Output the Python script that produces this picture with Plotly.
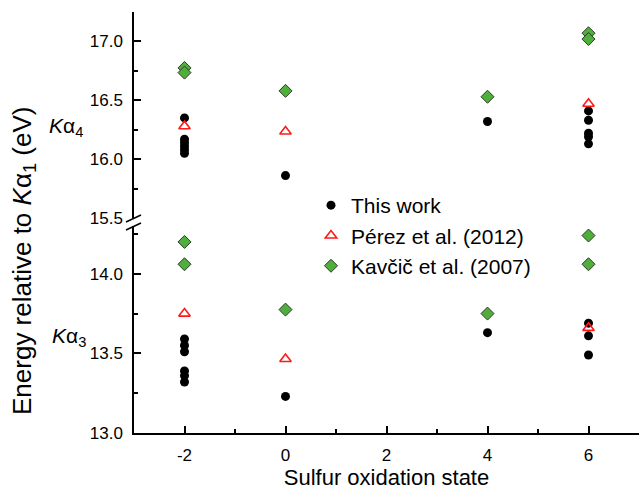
import plotly.graph_objects as go

# ---- data ----
tw_x_ka4 = [-2, -2, -2, -2, -2, -2, 0, 4, 6, 6, 6, 6, 6]
tw_y_ka4 = [16.35, 16.17, 16.14, 16.11, 16.08, 16.05, 15.86, 16.32, 16.41, 16.33, 16.22, 16.19, 16.13]
tw_x_ka3 = [-2, -2, -2, -2, -2, -2, 0, 4, 6, 6, 6]
tw_y_ka3 = [13.59, 13.55, 13.51, 13.39, 13.36, 13.32, 13.23, 13.63, 13.69, 13.61, 13.49]

pz_x_ka4 = [-2, 0, 6]
pz_y_ka4 = [16.28, 16.235, 16.47]
pz_x_ka3 = [-2, 0, 6]
pz_y_ka3 = [13.75, 13.465, 13.66]

kv_x_ka4 = [-2, -2, 0, 4, 6, 6]
kv_y_ka4 = [16.775, 16.735, 16.58, 16.53, 17.07, 17.02]
kv_x_ka3 = [-2, -2, 0, 4, 6, 6]
kv_y_ka3 = [14.20, 14.06, 13.775, 13.75, 14.24, 14.06]

x_ticks = [-2, 0, 2, 4, 6]
ka4_ticks = [15.5, 16.0, 16.5, 17.0]
ka3_ticks = [13.0, 13.5, 14.0]

FONT = "Liberation Sans, Arial, sans-serif"

series = [
    ("This work", tw_x_ka4, tw_y_ka4, tw_x_ka3, tw_y_ka3,
     dict(symbol="circle", size=9, color="black", line=dict(width=0))),
    ("Pérez et al. (2012)", pz_x_ka4, pz_y_ka4, pz_x_ka3, pz_y_ka3,
     dict(symbol="triangle-up-open", size=10, color="#ff1a1a", line=dict(width=1.6, color="#ff1a1a"))),
    ("Kavčič et al. (2007)", kv_x_ka4, kv_y_ka4, kv_x_ka3, kv_y_ka3,
     dict(symbol="diamond", size=10, color="#4fae3c", line=dict(width=1, color="#2b3d26"))),
]

fig = go.Figure()
for name, x4, y4, x3, y3, mk in series:
    fig.add_trace(go.Scatter(x=x4, y=y4, mode="markers", name=name,
                             marker=mk, xaxis="x", yaxis="y2", showlegend=True))
    fig.add_trace(go.Scatter(x=x3, y=y3, mode="markers", name=name,
                             marker=mk, xaxis="x", yaxis="y", showlegend=False))

L, R, T, B = 134, 0, 12, 57
W, H = 639, 490
pw, ph = W - L - R, H - T - B


def px(xp):
    return (xp - L) / pw


def py(yp):
    return (H - B - yp) / ph


axis_common = dict(showline=True, linecolor="black", linewidth=1.5, ticks="inside",
                   ticklen=7, tickwidth=1.5, tickcolor="black", showgrid=False,
                   zeroline=False, tickfont=dict(family=FONT, size=17, color="black"),
                   ticklabelstandoff=6)

fig.update_layout(
    width=W, height=H,
    margin=dict(l=L, r=R, t=T, b=B),
    paper_bgcolor="white", plot_bgcolor="white",
    font=dict(family=FONT, color="black"),
    xaxis=dict(range=[-3, 7], tickvals=x_ticks, ticktext=[str(v) for v in x_ticks],
               anchor="y", minor=dict(dtick=1, tick0=-3, ticks="inside", ticklen=4,
                                      tickwidth=1.5, tickcolor="black"),
               title=dict(text="Sulfur oxidation state", font=dict(family=FONT, size=22), standoff=6),
               **axis_common),
    yaxis=dict(domain=[0, py(226)], range=[13.0, 14.3], tickvals=ka3_ticks,
               ticktext=[f"{v:.1f}" for v in ka3_ticks], anchor="x",
               minor=dict(dtick=0.25, tick0=13.0, ticks="inside", ticklen=4,
                          tickwidth=1.5, tickcolor="black"),
               **axis_common),
    yaxis2=dict(domain=[py(218), 1], range=[15.5, 17.25], tickvals=ka4_ticks,
                ticktext=[f"{v:.1f}" for v in ka4_ticks], anchor="x",
                minor=dict(dtick=0.25, tick0=15.5, ticks="inside", ticklen=4,
                           tickwidth=1.5, tickcolor="black"),
                **axis_common),
    legend=dict(x=px(311), y=py(185), xanchor="left", yanchor="top",
                bgcolor="rgba(0,0,0,0)", font=dict(family=FONT, size=21, color="black"),
                itemsizing="trace", tracegroupgap=0),
    showlegend=True,
)

# y-axis title and line labels
fig.add_annotation(xref="paper", yref="paper", x=px(23), y=py(261),
                   text="Energy relative to <i>K</i>α<sub>1</sub> (eV)", textangle=-90,
                   showarrow=False, font=dict(family=FONT, size=26, color="black"),
                   xanchor="center", yanchor="middle")
fig.add_annotation(xref="paper", yref="paper", x=px(47), y=py(127),
                   text="<i>K</i>α<sub>4</sub>", showarrow=False,
                   font=dict(family=FONT, size=21, color="black"),
                   xanchor="left", yanchor="middle")
fig.add_annotation(xref="paper", yref="paper", x=px(50), y=py(337),
                   text="<i>K</i>α<sub>3</sub>", showarrow=False,
                   font=dict(family=FONT, size=21, color="black"),
                   xanchor="left", yanchor="middle")

# axis break marks
for (x0, y0, x1, y1) in [(126, 222, 141, 215), (126, 230, 141, 223)]:
    fig.add_shape(type="line", xref="paper", yref="paper",
                  x0=px(x0), y0=py(y0), x1=px(x1), y1=py(y1),
                  line=dict(color="black", width=1.5))

fig.write_html("out.html")
